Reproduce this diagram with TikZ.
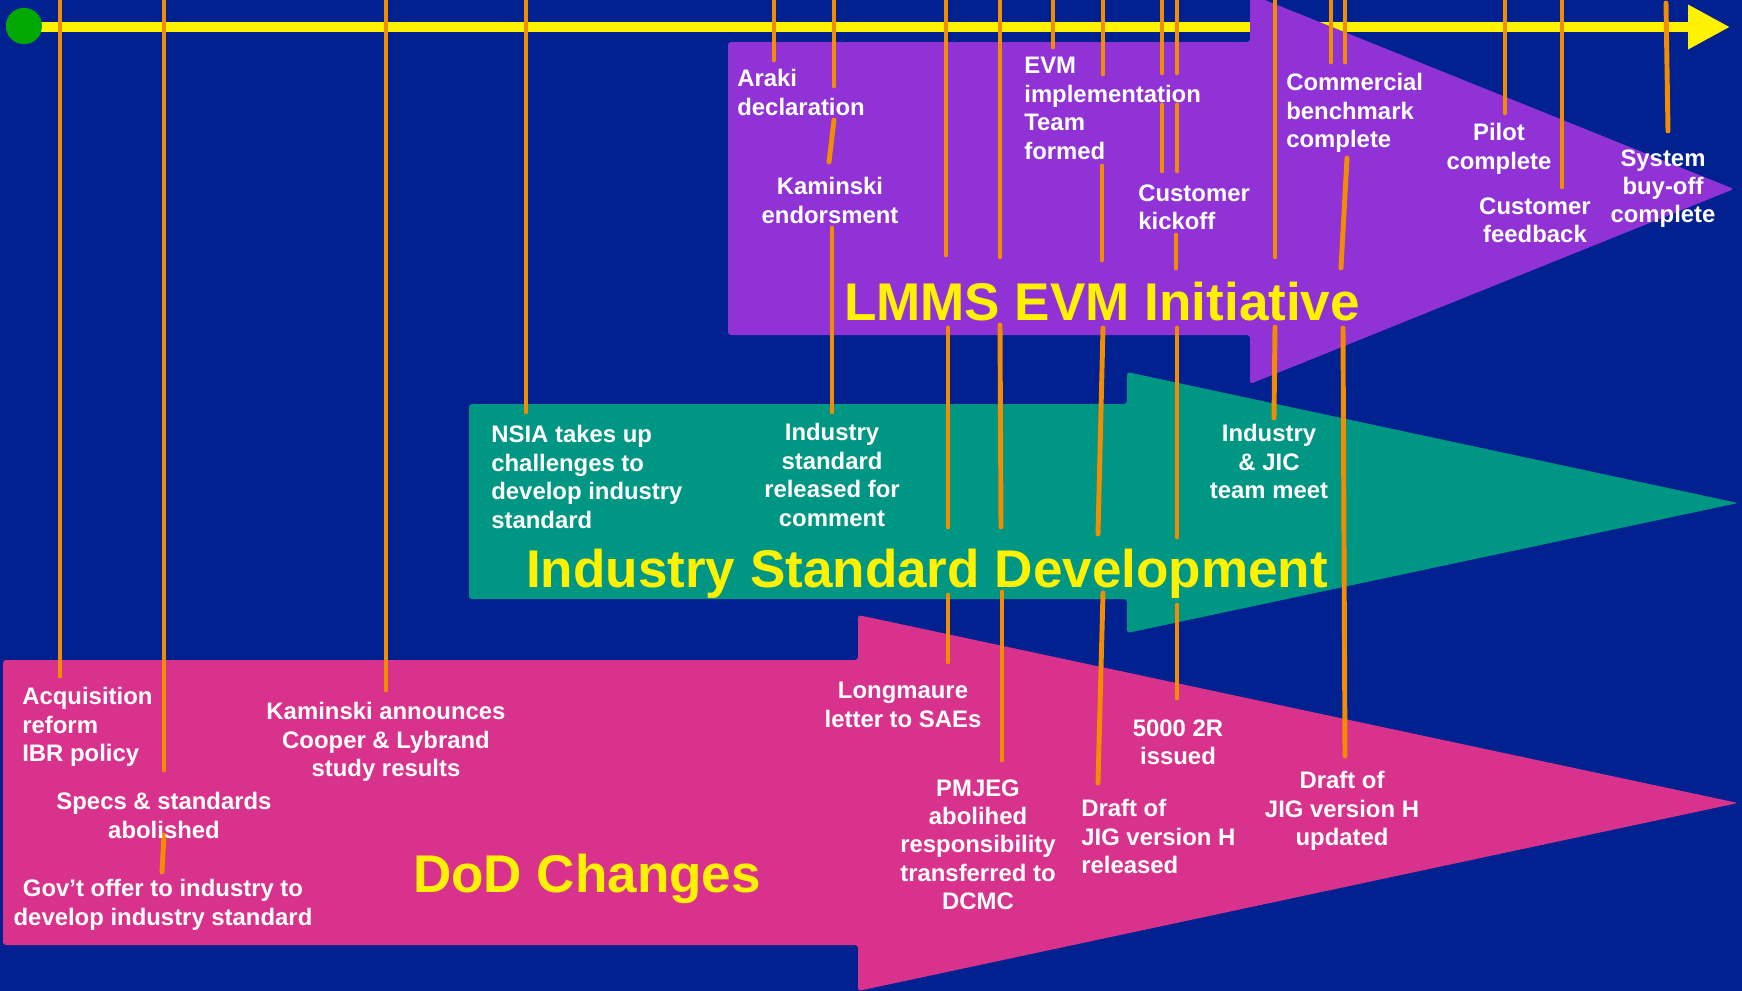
\documentclass[tikz,border=0pt]{standalone}
\usepackage{fontspec}
\setmainfont{Liberation Sans}
\usetikzlibrary{arrows.meta, positioning, calc}

\definecolor{bgblue}{RGB}{0,33,143}
\definecolor{lmmspurple}{RGB}{145,50,215}
\definecolor{stdteal}{RGB}{0,150,132}
\definecolor{dodpink}{RGB}{217,50,141}
\definecolor{tickorange}{RGB}{242,140,0}
\definecolor{dotgreen}{RGB}{0,168,0}

\begin{document}
\begin{tikzpicture}[
    x=0.02cm, y=-0.02cm,
    font=\fontsize{13.6pt}{16.2pt}\selectfont\bfseries,
    band/.style={fill=#1, rounded corners=0.06cm},
    bandtitle/.style={
        text=yellow, font=\fontsize{30.2pt}{36pt}\selectfont\bfseries,
        inner sep=0pt, anchor=base
    },
    event/.style={text=white, inner sep=0pt, align=center, anchor=north},
    eventleft/.style={text=white, inner sep=0pt, align=left, anchor=north west},
    tick/.style={draw=tickorange, line width=2.8pt, line cap=round},
    timeline/.style={draw=yellow, line width=5.67pt, -{Triangle[length=0.84cm, width=0.84cm]}}
]

% Frame and background
\useasboundingbox (0,0) rectangle (1742,991);
\fill[bgblue] (0,0) rectangle (1742,991);
\clip (0,0) rectangle (1742,991);

% Time line with its start dot
\node[circle, fill=dotgreen, minimum size=0.72cm, inner sep=0pt] (start) at (24,26) {};
\coordinate (now) at (1730,27);
\draw[timeline] (start.center |- now) -- (now);
\node[circle, fill=dotgreen, minimum size=0.72cm, inner sep=0pt] at (start) {};

% Three arrow bands
\fill[band=dodpink] (3,660) -- (858,660) -- (858,615) -- (1738,803)
    -- (858,991) -- (858,945) -- (3,945) -- cycle;
\fill[band=stdteal] (469,404) -- (1127,404) -- (1127,372) -- (1738,503)
    -- (1127,633) -- (1127,599) -- (469,599) -- cycle;
\fill[band=lmmspurple] (728,42) -- (1250,42) -- (1250,-6) -- (1734,189)
    -- (1250,384) -- (1250,335) -- (728,335) -- cycle;

% Band titles
\node[bandtitle] (lmms) at (1102,320) {LMMS EVM Initiative};
\node[bandtitle] (isd)  at (927,587)  {Industry Standard Development};
\node[bandtitle] (dod)  at (587,892)  {DoD Changes};

% Ticks hanging from the time line
\draw[tick] (60,0) -- (60,676);
\draw[tick] (164,0) -- (164,770);
\draw[tick] (164,835) -- (162,872);
\draw[tick] (386,0) -- (386,690);
\draw[tick] (526,0) -- (526,412);
\draw[tick] (774,0) -- (774,60);
\draw[tick] (834,0) -- (834,86);
\draw[tick] (834,120) -- (829,162);
\draw[tick] (832,228) -- (832,412);
\draw[tick] (946,0) -- (946,255);
\draw[tick] (948,328) -- (948,527);
\draw[tick] (948,595) -- (948,662);
\draw[tick] (1000,0) -- (1000,257);
\draw[tick] (1000,325) -- (1001,527);
\draw[tick] (1002,592) -- (1002,760);
\draw[tick] (1053,0) -- (1053,47);
\draw[tick] (1103,0) -- (1103,74);
\draw[tick] (1102,166) -- (1102,260);
\draw[tick] (1103,328) -- (1098,534);
\draw[tick] (1103,593) -- (1098,783);
\draw[tick] (1162,0) -- (1162,73);
\draw[tick] (1162,105) -- (1162,171);
\draw[tick] (1177,0) -- (1177,73);
\draw[tick] (1177,105) -- (1177,171);
\draw[tick] (1176,235) -- (1176,268);
\draw[tick] (1177,328) -- (1177,537);
\draw[tick] (1177,605) -- (1177,698);
\draw[tick] (1275,0) -- (1275,257);
\draw[tick] (1275,327) -- (1274,418);
\draw[tick] (1331,0) -- (1331,62);
\draw[tick] (1345,0) -- (1345,62);
\draw[tick] (1347,158) -- (1341,268);
\draw[tick] (1343,328) -- (1345,756);
\draw[tick] (1505,0) -- (1505,113);
\draw[tick] (1562,0) -- (1562,187);
\draw[tick] (1666,3) -- (1668,131);

% LMMS events
\node[eventleft] (araki)  at (737,69)   {Araki\\declaration};
\node[event]     (kamend) at (830,177)  {Kaminski\\endorsment};
\node[eventleft] (evm)    at (1024,57)  {EVM\\implementation\\Team\\formed};
\node[eventleft] (kick)   at (1138,184) {Customer\\kickoff};
\node[eventleft] (bench)  at (1286,73)  {Commercial\\benchmark\\complete};
\node[event]     (pilot)  at (1499,123) {Pilot\\complete};
\node[event]     (feedb)  at (1535,197) {Customer\\feedback};
\node[event]     (buyoff) at (1663,149) {System\\buy-off\\complete};

% Industry standard events
\node[eventleft] (nsia)   at (491,425)  {NSIA takes up\\challenges to\\develop industry\\standard};
\node[event]     (relcom) at (832,423)  {Industry\\standard\\released for\\comment};
\node[event]     (jic)    at (1269,424) {Industry\\\& JIC\\team meet};

% DoD events
\node[eventleft] (acq)    at (22,687)   {Acquisition\\reform\\IBR policy};
\node[event]     (specs)  at (164,792)  {Specs \& standards\\abolished};
\node[event]     (offer)  at (163,879)  {Gov’t offer to industry to\\develop industry standard};
\node[event]     (coop)   at (386,702)  {Kaminski announces\\Cooper \& Lybrand\\study results};
\node[event]     (longm)  at (903,682)  {Longmaure\\letter to SAEs};
\node[event]     (pmjeg)  at (978,779)  {PMJEG\\abolihed\\responsibility\\transferred to\\DCMC};
\node[eventleft] (jigrel) at (1081,799) {Draft of\\JIG version H\\released};
\node[event]     (r5000)  at (1178,719) {5000 2R\\issued};
\node[event]     (jigupd) at (1342,771) {Draft of\\JIG version H\\updated};

\end{tikzpicture}
\end{document}
